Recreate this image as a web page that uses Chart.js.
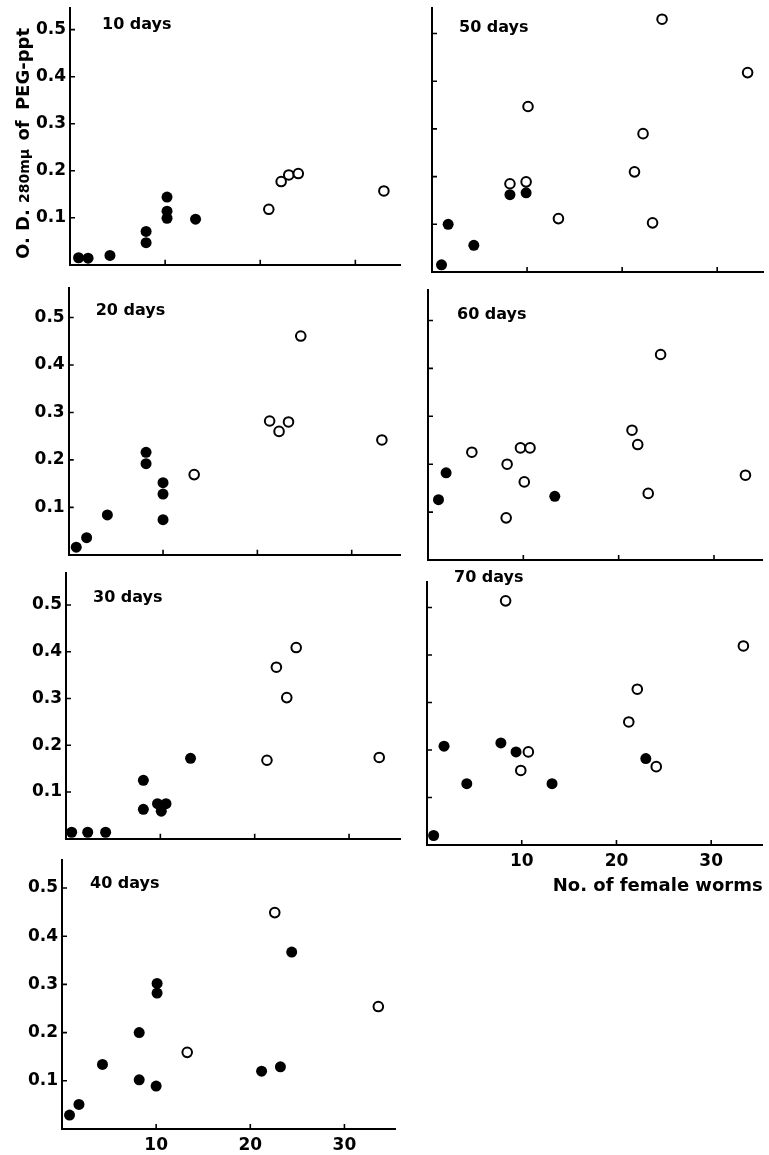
<!DOCTYPE html>
<html><head><meta charset="utf-8">
<script src="https://cdn.jsdelivr.net/npm/chart.js@4.4.0/dist/chart.umd.min.js"></script>
<style>
html,body{margin:0;padding:0;background:#fff;}
body{width:769px;height:1155px;overflow:hidden;position:relative;}
canvas{position:absolute;}
</style></head><body>
<script>
// ---- tick labels ----
const xTickValues = [10, 20, 30];
const yTickValues = [0.1, 0.2, 0.3, 0.4, 0.5];
const panelLabels = ['10 days', '50 days', '20 days', '60 days', '30 days', '70 days', '40 days'];
const yTitleParts = ['O. D. ', '280mμ', ' of ', 'PEG-ppt'];
const xTitle = 'No. of female worms';

// ---- data (x = No. of female worms, y = O.D.) ----
const d10FilledX = [0.9, 1.9, 4.2, 8.0, 8.0, 10.2, 10.2, 10.2, 13.2];
const d10FilledY = [0.015, 0.014, 0.020, 0.071, 0.047, 0.144, 0.114, 0.099, 0.097];
const d10OpenX = [20.9, 22.2, 23.0, 24.0, 33.0];
const d10OpenY = [0.118, 0.177, 0.191, 0.194, 0.157];

const d50FilledX = [1.0, 1.7, 4.4, 8.2, 9.9];
const d50FilledY = [0.015, 0.100, 0.056, 0.162, 0.166];
const d50OpenX = [8.2, 9.9, 10.1, 13.3, 21.3, 22.2, 23.2, 24.2, 33.2];
const d50OpenY = [0.185, 0.189, 0.347, 0.112, 0.210, 0.290, 0.103, 0.530, 0.418];

const d20FilledX = [0.8, 1.9, 4.1, 8.2, 8.2, 10.0, 10.0, 10.0];
const d20FilledY = [0.016, 0.036, 0.084, 0.216, 0.192, 0.152, 0.128, 0.074];
const d20OpenX = [13.3, 21.3, 22.3, 23.3, 24.6, 33.2];
const d20OpenY = [0.169, 0.282, 0.260, 0.280, 0.461, 0.242];

const d60FilledX = [1.1, 1.9, 13.3];
const d60FilledY = [0.126, 0.182, 0.133];
const d60OpenX = [4.6, 8.3, 8.2, 9.7, 10.7, 10.1, 21.4, 22.0, 23.1, 24.4, 33.3];
const d60OpenY = [0.225, 0.200, 0.088, 0.234, 0.234, 0.163, 0.271, 0.241, 0.139, 0.429, 0.177];

const d30FilledX = [0.6, 2.3, 4.2, 8.2, 8.2, 9.7, 10.1, 10.6, 13.2];
const d30FilledY = [0.014, 0.014, 0.014, 0.125, 0.063, 0.075, 0.059, 0.075, 0.172];
const d30OpenX = [21.3, 22.3, 23.4, 24.4, 33.2];
const d30OpenY = [0.168, 0.367, 0.302, 0.409, 0.174];

const d70FilledX = [0.7, 1.8, 4.2, 7.8, 9.4, 13.2, 23.1];
const d70FilledY = [0.020, 0.208, 0.129, 0.215, 0.196, 0.129, 0.182];
const d70OpenX = [8.3, 10.7, 9.9, 21.3, 22.2, 24.2, 33.4];
const d70OpenY = [0.514, 0.196, 0.157, 0.259, 0.328, 0.165, 0.419];

const d40FilledX = [0.8, 1.8, 4.3, 8.2, 8.2, 10.0, 10.1, 10.1, 21.2, 23.2, 24.4];
const d40FilledY = [0.029, 0.051, 0.134, 0.102, 0.200, 0.089, 0.302, 0.282, 0.120, 0.129, 0.367];
const d40OpenX = [13.3, 22.6, 33.6];
const d40OpenY = [0.159, 0.449, 0.254];

const panelData = [
  [d10FilledX, d10FilledY, d10OpenX, d10OpenY],
  [d50FilledX, d50FilledY, d50OpenX, d50OpenY],
  [d20FilledX, d20FilledY, d20OpenX, d20OpenY],
  [d60FilledX, d60FilledY, d60OpenX, d60OpenY],
  [d30FilledX, d30FilledY, d30OpenX, d30OpenY],
  [d70FilledX, d70FilledY, d70OpenX, d70OpenY],
  [d40FilledX, d40FilledY, d40OpenX, d40OpenY]
];

// ---- layout (pixel geometry of each panel) ----
const layouts = [
  {L:70,   T:8,   R:405, B:269,  pxX:9.65, pxY:478, left:true,  xLab:false, lx:32, ly:17,  yTitle:true},
  {L:431.5,T:8,   R:767, B:272,  pxX:9.63, pxY:477, left:false, xLab:false, lx:27, ly:20},
  {L:68.7, T:288, R:405, B:559,  pxX:9.57, pxY:482, left:true,  xLab:false, lx:27, ly:23},
  {L:428,  T:290, R:767, B:560,  pxX:9.67, pxY:479, left:false, xLab:false, lx:29, ly:25},
  {L:66,   T:573, R:405, B:843,  pxX:9.57, pxY:475, left:true,  xLab:false, lx:27, ly:25},
  {L:427.3,T:582, R:767, B:845,  pxX:9.6,  pxY:475, left:false, xLab:true,  lx:27, ly:-4, xTitle:true},
  {L:62,   T:860, R:400, B:1129, pxX:9.55, pxY:482, left:true,  xLab:true,  lx:28, ly:24}
];

const FONT = '"DejaVu Sans", sans-serif';

const decorPlugin = {
  id: 'decor',
  afterDraw(chart, args, opts) {
    const ctx = chart.ctx;
    const xs = chart.scales.x, ys = chart.scales.y;
    const ca = chart.chartArea;
    ctx.save();
    ctx.strokeStyle = '#000';
    ctx.lineWidth = 1.6;
    ctx.beginPath();
    xTickValues.forEach(v => {
      const px = xs.getPixelForValue(v);
      ctx.moveTo(px, ca.bottom); ctx.lineTo(px, ca.bottom - 5);
    });
    yTickValues.forEach(v => {
      const py = ys.getPixelForValue(v);
      ctx.moveTo(ca.left, py); ctx.lineTo(ca.left + 5, py);
    });
    ctx.stroke();
    // panel label
    ctx.fillStyle = '#000';
    ctx.font = 'bold 16px ' + FONT;
    ctx.textBaseline = 'middle';
    ctx.textAlign = 'left';
    ctx.fillText(opts.label, ca.left + opts.lx, ca.top + opts.ly);
    // y title (mixed sizes, rotated)
    if (opts.yTitle) {
      const fonts = ['bold 18px ' + FONT, 'bold 14px ' + FONT, 'bold 18px ' + FONT, 'bold 18px ' + FONT];
      const gaps = [0, 0, 2, 4];
      ctx.translate(opts.yTitleX, opts.yTitleBottom);
      ctx.rotate(-Math.PI / 2);
      let pos = 0;
      yTitleParts.forEach((t, i) => {
        ctx.font = fonts[i];
        pos += gaps[i];
        ctx.fillText(t, pos, i === 1 ? 1 : 0);
        pos += ctx.measureText(t).width;
      });
      ctx.setTransform(1, 0, 0, 1, 0, 0);
    }
    if (opts.xTitle) {
      ctx.font = 'bold 18px ' + FONT;
      ctx.textAlign = 'right';
      ctx.fillText(xTitle, opts.xTitleRight, opts.xTitleY);
    }
    ctx.restore();
  }
};

layouts.forEach((g, i) => {
  const padL = g.left ? g.L : 40;
  const padR = 2;
  const padT = 20;
  const padB = g.xTitle ? 55 : (g.xLab ? 30 : 10);
  const cw = Math.round(padL + (g.R - g.L) + padR);
  const chh = Math.round(padT + (g.B - g.T) + padB);
  const cLeft = g.L - padL;
  const cTop = g.T - padT;
  const cv = document.createElement('canvas');
  cv.width = cw; cv.height = chh;
  cv.style.left = cLeft + 'px'; cv.style.top = cTop + 'px';
  cv.style.width = cw + 'px'; cv.style.height = chh + 'px';
  document.body.appendChild(cv);

  const [fx, fy, ox, oy] = panelData[i];
  const filled = fx.map((x, k) => ({x, y: fy[k]}));
  const open = ox.map((x, k) => ({x, y: oy[k]}));
  const xMax = (g.R - g.L) / g.pxX;
  const yMax = (g.B - g.T) / g.pxY;

  new Chart(cv, {
    type: 'scatter',
    data: {
      datasets: [
        {data: filled, pointRadius: 5.5, pointBackgroundColor: '#000', pointBorderColor: '#000', pointBorderWidth: 0, clip: false},
        {data: open, pointRadius: 4.8, pointBackgroundColor: '#fff', pointBorderColor: '#000', pointBorderWidth: 2, clip: false}
      ]
    },
    options: {
      responsive: false,
      animation: false,
      devicePixelRatio: 1,
      events: [],
      layout: {padding: {left: 0, top: padT, right: padR, bottom: 0}},
      plugins: {
        legend: {display: false},
        tooltip: {enabled: false},
        decor: {
          label: panelLabels[i], lx: g.lx, ly: g.ly,
          yTitle: !!g.yTitle, yTitleX: 24 - cLeft, yTitleBottom: 259 - cTop,
          xTitle: !!g.xTitle, xTitleRight: 763 - cLeft, xTitleY: 886 - cTop
        }
      },
      scales: {
        x: {
          type: 'linear', min: 0, max: xMax,
          afterBuildTicks: s => { s.ticks = xTickValues.map(v => ({value: v})); },
          afterFit: s => { s.height = padB; },
          grid: {display: false, drawTicks: false},
          border: {display: true, color: '#000', width: 2},
          ticks: {display: g.xLab, padding: 6, color: '#000', maxRotation: 0, autoSkip: false,
                  font: {family: FONT, size: 17, weight: 'bold'}}
        },
        y: {
          type: 'linear', min: 0, max: yMax,
          afterBuildTicks: s => { s.ticks = yTickValues.map(v => ({value: v})); },
          afterFit: s => { s.width = padL; },
          grid: {display: false, drawTicks: false},
          border: {display: true, color: '#000', width: 2},
          ticks: {display: g.left, padding: 4, color: '#000', autoSkip: false,
                  callback: v => v.toFixed(1),
                  font: {family: FONT, size: 17, weight: 'bold'}}
        }
      }
    },
    plugins: [decorPlugin]
  });
});
</script>
</body></html>
